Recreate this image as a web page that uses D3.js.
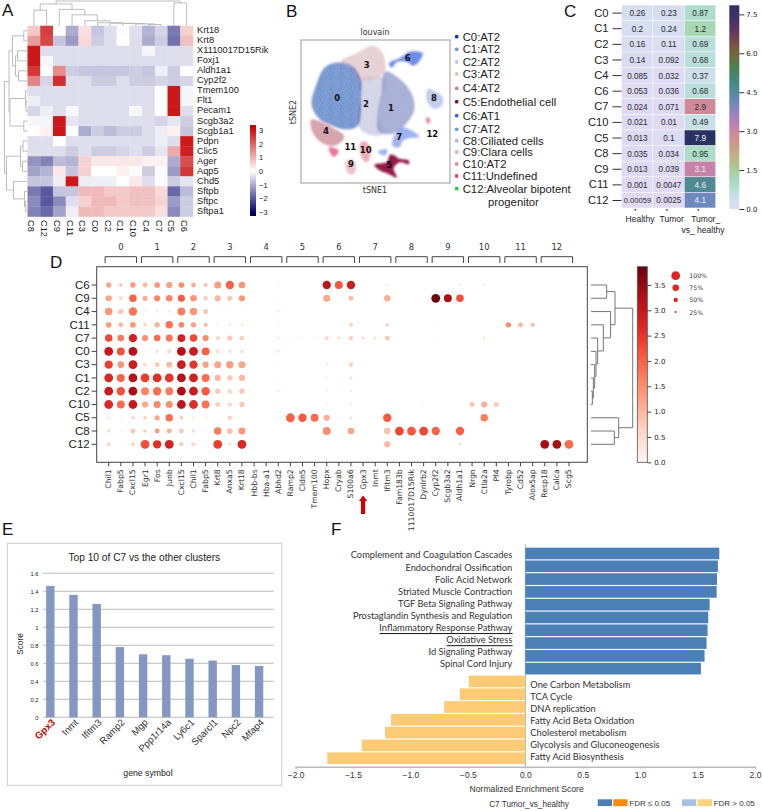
<!DOCTYPE html>
<html><head><meta charset="utf-8">
<style>
html,body{margin:0;padding:0;background:#fff}
svg{display:block}
text{font-family:"Liberation Sans",Arial,sans-serif;fill:#222}
.dj text,text.dj{font-family:"DejaVu Sans",sans-serif}
.lato text,text.lato{font-family:Lato,sans-serif}
</style>
<script src="https://cdn.jsdelivr.net/npm/d3@7"></script>
</head><body><svg id="c" width="763" height="811" viewBox="0 0 763 811"></svg>
<script>
/* ---------- Panel A ---------- */
const aCols=["C8","C12","C9","C11","C3","C0","C2","C1","C10","C4","C7","C5","C6"];
const aRows=["Krt18","Krt8","X1110017D15Rik","Foxj1","Aldh1a1","Cyp2f2","Tmem100","Flt1","Pecam1","Scgb3a2","Scgb1a1","Pdpn","Clic5","Ager","Aqp5","Chd5","Sftpb","Sftpc","Sftpa1"];
const aValues=[
[.7,2.5,0,-1,.4,-.7,-.4,-.05,-.4,-.9,-.5,-1.6,.6],
[1.3,2.4,-.7,-1.2,.5,-.6,-.4,0,-.4,-1,-.6,-1.7,.8],
[3,-.4,-.4,-.4,-.4,-.4,-.4,-.4,-.4,-.1,-.4,-.4,-.4],
[3,-.1,-.4,-.4,-.4,-.4,-.4,-.4,-.4,-.4,-.4,-.4,-.4],
[2.6,0,1.5,-.6,-.7,-.7,-.7,-.7,-.6,-.7,-.2,-.6,0],
[1.6,-.5,2.7,-.4,-.4,-.6,-.6,-.4,-.6,-.6,-.5,-.6,-.5],
[-.4,-.4,-.4,-.4,-.4,-.4,-.4,-.4,-.4,-.4,0,3,-.1],
[-.2,-.4,-.4,-.4,-.4,-.4,-.4,-.4,-.4,-.4,0,3,-.1],
[-.5,-.2,-.4,-.1,-.4,-.4,-.4,-.4,-.1,-.4,0,3,-.4],
[-.1,-.1,3,-.3,-.4,-.4,-.4,-.4,-.4,-.4,-.5,-.3,-.6],
[0,.2,3,0,-1,-.6,-.8,-.6,-.6,-.4,-.2,.2,-.7],
[-.4,-.4,0,-.4,-.4,-.4,-.4,-.4,-.4,-.4,-.2,-.4,3],
[-.4,-.4,-.4,-.6,-.4,-.6,-.6,-.5,-.4,-.6,-.3,1.1,2.9],
[-1.3,-1.5,-.8,-.9,.6,.3,.3,.3,.3,.2,.2,-1,2.3],
[-1.1,-.9,.3,-.7,.6,0,0,.2,-.05,-.6,-.05,-1.2,2.6],
[-.7,-.7,-.2,3,-.2,-.2,-.2,0,.3,-.4,-.05,-.6,-.3],
[-1.6,-2,-.7,-.7,.9,.9,.7,.7,.8,.8,.5,-1.8,-.8],
[-1.4,-2,-1.4,-.4,.6,.9,.9,.7,.8,.8,.6,-1.2,-.6],
[-1.5,-1.8,-1.1,-.2,.9,.9,.7,.7,.7,.7,.4,-1.4,-.6]];
const aColTree=[25,[22,[15.7,"C8","C12"],[16.5,"C9",[11,"C11",[5,"C3",[3,"C0",[2.5,"C2",[2.2,"C1",[1.8,"C10",[1.2,"C4","C7"]]]]]]]]],[23,"C5","C6"]];
const aRowTree=[23,[18.5,[15,[3.7,"Krt18","Krt8"],[12,[10,"X1110017D15Rik","Foxj1"],[9,"Aldh1a1","Cyp2f2"]]],[17.5,[2,"Tmem100",[1.5,"Flt1","Pecam1"]],[3.7,"Scgb3a2","Scgb1a1"]]],[21,[7,[4.5,"Pdpn","Clic5"],[5,"Ager","Aqp5"]],[14,"Chd5",[3,"Sftpb",[2,"Sftpc","Sftpa1"]]]]];
const aTicks=[3,2,1,0,-1,-2,-3];

/* ---------- Panel B ---------- */
const bLegend=["C0:AT2","C1:AT2","C2:AT2","C3:AT2","C4:AT2","C5:Endothelial cell","C6:AT1","C7:AT2","C8:Ciliated cells","C9:Clara cells","C10:AT2","C11:Undefined","C12:Alveolar bipotent","progenitor"];
const bColors=["#0a3ea8","#8a94c8","#c5c8df","#dfc0c5","#c6828e","#8c0a3c","#3c63dc","#7c96e8","#aab8e8","#e4aab8","#e88a9c","#e0406e","#22cc44"];
/* regions (cluster index, outline in map units) */
const tsneRegionCluster=[2,1,3,0,4,6,7,7,8,9,10,11,11,5];
const tsneRegions=[
[[150,150],[190,138],[228,150],[216,200],[206,260],[218,312],[175,312],[145,288],[150,200]],
[[225,125],[272,150],[306,195],[312,240],[282,287],[240,312],[205,302],[205,240],[215,190]],
[[92,95],[140,70],[190,48],[217,70],[224,122],[190,147],[150,150],[125,110]],
[[18,170],[45,113],[85,98],[127,110],[152,150],[152,200],[152,245],[142,287],[105,297],[70,287],[30,267],[6,225]],
[[4,270],[30,275],[70,295],[102,320],[75,346],[40,340],[10,310]],
[[238,100],[270,85],[300,66],[337,70],[326,95],[310,106],[290,95],[260,95],[245,112]],
[[275,293],[300,300],[327,320],[300,323],[280,330],[266,352],[248,346],[255,315]],
[[204,366],[230,358],[226,376],[212,372]],
[[354,178],[375,185],[396,200],[396,225],[375,236],[360,226],[350,205]],
[[110,394],[130,390],[136,425],[120,433],[108,415]],
[[152,340],[165,335],[181,355],[171,397],[155,380]],
[[58,352],[72,355],[85,362],[72,380],[62,370]],
[[350,264],[357,264],[358,279],[352,279]],
[[194,405],[232,396],[240,375],[255,378],[265,386],[296,392],[296,402],[270,396],[250,415],[260,442],[235,431],[210,421]]];
const tsneLabels=["0","1","2","3","4","5","6","7","8","9","10","11","12"];
const tsneLabelX=[82,243,168,170,48,238,293,268,372,123,167,121,367];
const tsneLabelY=[205,233,222,105,303,405,83,322,205,403,360,350,312];
const stippleTile=[[1,1],[4,.6],[7.5,1.4],[2.6,3],[5.8,3.2],[9,3.6],[.6,5],[3.8,5.4],[7,5.2],[1.8,7],[5,7.4],[8.6,6.8],[.8,9],[3.4,8.8],[6.4,9.2],[9.2,8.8]];

/* ---------- Panel C ---------- */
const cRows=["C0","C1","C2","C3","C4","C6","C7","C10","C5","C8","C9","C11","C12"];
const cCols=["Healthy","Tumor","Tumor_vs_healthy"];
const cHealthy=[.26,.2,.16,.14,.085,.053,.024,.021,.013,.035,.013,.001,.00059];
const cTumor=[.23,.24,.11,.092,.032,.036,.071,.01,.1,.034,.039,.0047,.0025];
const cRatio=[.87,1.2,.69,.68,.37,.68,2.9,.49,7.9,.95,3.1,4.6,4.1];
const cTicks=[0,1.5,3,4.5,6,7.5];

/* ---------- Panel D ---------- */
const dGroups=["0","1","2","3","4","5","6","7","8","9","10","11","12"];
const dGenes=["Chil1","Fabp5","Cxcl15","Egr1","Fos","Junb","Cxcl15","Chil1","Fabp5","Krt8","Anxa5","Krt18","Hbb-bs","Hba-a1","Abhd2","Ramp2","Cldn5","Tmem100","Hopx","Cryab","S100a6","Gpx3","Inmt","Ifitm3","Fam183b","1110017D15Rik","Dynlrb2","Cyp2f2","Scgb3a2","Aldh1a1","Nrgn","Ctla2a","Pf4","Tyrobp","Cd52","Alox5ap","Resp18","Calca","Scg5"];
const dRows=["C6","C9","C4","C11","C7","C0","C3","C1","C2","C10","C5","C8","C12"];
const dFrac=[
[.6,.4,.6, .55,.65,.7, .65,.55,.45, .8,.95,.75, 0,0,.25, .15,.12,.12, .95,.9,.95, .15,.15,.25, 0,0,0, 0,0,.25, 0,.25,0, 0,0,0, 0,0,0],
[.7,.45,.85, .6,.7,.75, .8,.75,.5, .7,.6,.7, .15,0,.2, .1,.1,0, .8,0,.55, 0,0,.75, 0,0,0, 1,.9,.85, 0,.15,0, 0,0,0, 0,0,0],
[.85,.6,.95, .2,.3,.3, .9,.85,.6, .2,.2,.2, .15,.1,.3, 0,0,0, .1,0,.15, 0,0,.1, 0,0,0, 0,0,0, 0,0,0, 0,0,0, 0,0,0],
[.65,.55,.65, .4,.6,.85, .65,.6,.5, .25,.3,.3, 0,0,.2, 0,0,0, .15,.1,.45, 0,0,.4, 0,0,0, .2,.1,0, .1,.15,0, .6,.55,.45, 0,0,0],
[.85,.75,.95, .7,.75,.8, .9,.85,.7, .5,.6,.55, 0,0,.3, .2,.2,.2, .45,.35,.5, .35,.3,.55, 0,0,.15, .2,.1,.1, .1,.3,0, 0,0,0, 0,0,0],
[1,.9,1, .2,.4,.5, 1,1,.9, .45,.4,.4, .1,0,.3, 0,0,0, .1,0,.1, 0,0,0, 0,0,.1, .1,0,0, 0,0,0, 0,0,0, 0,0,0],
[.95,.75,1, .45,.55,.65, 1,.95,.7, .8,.85,.8, 0,0,.2, 0,0,0, .3,.15,.5, 0,0,.15, 0,0,.1, 0,0,0, 0,0,0, 0,0,0, 0,0,0],
[1,.9,1, 1,1,1, 1,1,.9, .7,.6,.7, 0,0,.2, 0,0,0, .25,.1,.35, 0,0,.1, 0,0,.15, .15,.1,.1, 0,0,0, 0,0,0, 0,0,0],
[1,.95,1, .9,.95,.9, 1,1,.95, .6,.55,.6, 0,0,.3, 0,0,0, .2,.15,.3, 0,0,0, 0,0,.15, .1,0,0, 0,0,0, 0,0,0, 0,0,0],
[1,.9,1, .7,.8,.8, 1,1,.9, .55,.5,.6, .1,.15,.2, 0,0,0, .25,.15,.3, 0,0,.1, 0,0,.2, .1,.1,.1, .55,.7,.55, 0,0,0, 0,0,0],
[.3,.2,.4, .4,.6,.85, .45,.3,.25, .1,.5,.1, 0,0,.1, 1,.95,.9, .7,.25,.35, .15,.15,.95, 0,0,0, 0,0,0, 0,.85,0, 0,0,0, 0,0,0],
[.4,.2,.55, .4,.55,.55, .55,.4,.2, .85,.65,.8, 0,0,0, 0,0,0, .9,0,.75, 0,0,.75, 1,1,1, .95,.1,.95, 0,0,0, 0,0,0, 0,0,0],
[.45,.15,.45, 1,.95,1, .5,.45,.15, 1,.35,1, 0,0,0, 0,0,0, 0,0,.15, .1,0,.7, 0,0,0, .2,.1,.35, 0,0,0, 0,0,0, 1,1,1]];
const dExpr=[
[1.2,.9,1.4, 1,1.4,1.3, 1.5,1.1,.9, 1.3,2,1.4, 0,0,.2, .1,.1,.1, 3.1,2.1,2.9, .1,.1,.4, 0,0,0, 0,0,.4, 0,.4,0, 0,0,0, 0,0,0],
[1.2,.6,2, 1.1,1.6,1.6, 2.1,1.4,.7, 1,.8,1.4, .1,0,.1, .1,.1,0, 1.2,0,.9, 0,0,1.1, 0,0,0, 3.8,3.3,2.2, 0,.1,0, 0,0,0, 0,0,0],
[1.4,.8,1.8, .2,.3,.3, 1.7,1.4,.8, .2,.2,.2, .1,.1,.3, 0,0,0, .1,0,.15, 0,0,.1, 0,0,0, 0,0,0, 0,0,0, 0,0,0, 0,0,0],
[1.3,1,1.4, .7,1.1,1.8, 1.6,1.3,.9, .3,.4,.4, 0,0,.2, 0,0,0, .1,.1,.7, 0,0,.7, 0,0,0, .2,.1,0, .1,.1,0, 1.5,1,1, 0,0,0],
[2.3,1.7,2.8, 1.5,1.9,1.8, 2.8,2.3,1.5, .6,.8,.7, 0,0,.3, .2,.2,.2, .7,.5,.7, .6,.5,.8, 0,0,.1, .2,.1,.1, .1,.4,0, 0,0,0, 0,0,0],
[3,2.2,3.2, .2,.4,.5, 3.2,2.9,2, .5,.4,.5, .1,0,.4, 0,0,0, .1,0,.1, 0,0,0, 0,0,.1, .1,0,0, 0,0,0, 0,0,0, 0,0,0],
[2.4,1.4,2.9, .5,.8,1, 2.9,2.5,1.3, 1.2,1.3,1.2, 0,0,.2, 0,0,0, .3,.1,.7, 0,0,.1, 0,0,.1, 0,0,0, 0,0,0, 0,0,0, 0,0,0],
[2.7,2,3.2, 2.4,2.6,2.5, 3.2,2.8,1.9, 1,.8,1, 0,0,.2, 0,0,0, .3,.1,.5, 0,0,.1, 0,0,.1, .1,.1,.1, 0,0,0, 0,0,0, 0,0,0],
[2.9,2.2,3.3, 1.6,1.9,1.7, 3.3,2.9,2.1, .8,.6,.8, 0,0,.3, 0,0,0, .2,.1,.3, 0,0,0, 0,0,.1, .1,0,0, 0,0,0, 0,0,0, 0,0,0],
[2.7,1.9,3, 1.2,1.6,1.5, 3.1,2.6,1.8, .7,.6,.8, .1,.1,.2, 0,0,0, .3,.1,.3, 0,0,.1, 0,0,.1, .1,.1,.1, .9,1.1,.8, 0,0,0, 0,0,0],
[.4,.2,.6, .7,1.2,1.9, .7,.3,.3, .1,.7,.1, 0,0,.1, 2,2.1,1.9, 1.1,.2,.5, .1,.1,2.1, 0,0,0, 0,0,0, 0,1.7,0, 0,0,0, 0,0,0],
[.5,.3,.8, .7,1.4,1.1, .8,.5,.2, 1.7,.9,1.4, 0,0,0, 0,0,0, 1.5,0,1.2, 0,0,.9, 2.3,2.1,2.3, 2,.1,2, 0,0,0, 0,0,0, 0,0,0],
[.6,.2,.6, 2.2,2.6,2.8, .7,.6,.2, 2.4,.4,2.7, 0,0,0, 0,0,0, 0,0,.1, .1,0,1, 0,0,0, .2,.1,.4, 0,0,0, 0,0,0, 3.3,3.3,1.9]];
const dTree=[1,[.576,[.376,"C6","C9"],[.47,"C4",[.296,"C11",[.16,"C7",[.12,"C0",[.088,"C3",[.056,"C1",[.032,"C2","C10"]]]]]]]],[.664,"C5",[.56,"C8","C12"]]];
const dSizeLegend=[1,.75,.5,.25];
const dBarTicks=[0,.5,1,1.5,2,2.5,3,3.5];

/* ---------- Panel E ---------- */
const eGenes=["Gpx3","Inmt","Ifitm3","Ramp2","Mgp","Ppp1r14a","Ly6c1","Sparcl1","Npc2","Mfap4"];
const eScores=[1.46,1.36,1.26,.78,.70,.69,.65,.63,.58,.57];

/* ---------- Panel F ---------- */
const fUp=["Complement and Coagulation Cascades","Endochondral Ossification","Folic Acid Network","Striated Muscle Contraction","TGF Beta Signaling Pathway","Prostaglandin Synthesis and Regulation","Inflammatory Response Pathway","Oxidative Stress","Id Signaling Pathway","Spinal Cord Injury"];
const fUpNES=[1.689,1.677,1.669,1.666,1.605,1.593,1.587,1.578,1.561,1.529];
const fDown=["One Carbon Metabolism","TCA Cycle","DNA replication","Fatty Acid Beta Oxidation","Cholesterol metabolism","Glycolysis and Gluconeogenesis","Fatty Acid Biosynthesis"];
const fDownNES=[-.491,-.57,-.706,-1.169,-1.221,-1.424,-1.724];
const fTicks=[-2,-1.5,-1,-.5,0,.5,1,1.5,2];
const fUnderlined=["Inflammatory Response Pathway","Oxidative Stress"];

/* ---------- helpers ---------- */
const svg=d3.select("#c"), defs=svg.append("defs");
function letter(t,x,y){svg.append("text").attr("x",x).attr("y",y).attr("font-size",17).style("fill","#111").text(t);}
function gradient(id,scale,dom){
  const g=defs.append("linearGradient").attr("id",id).attr("x1",0).attr("x2",0).attr("y1",1).attr("y2",0);
  d3.range(41).forEach(i=>{const t=i/40;g.append("stop").attr("offset",t).attr("stop-color",scale(dom[0]+t*(dom[1]-dom[0])));});
}
/* draws a nested [height,a,b] tree with leaf scale `leaf` and height scale `hs` */
function dendro(g,tree,leaf,hs,orient,color,w){
  const seg=(a,b,c,d)=>{g.append("path").attr("fill","none").attr("stroke",color).attr("stroke-width",w)
    .attr("d",orient==="h"?d3.line()([[b,a],[d,c]]):d3.line()([[a,b],[c,d]]));};
  (function walk(n){
    if(typeof n==="string") return {p:leaf(n),h:hs(0)};
    const l=walk(n[1]),r=walk(n[2]),H=hs(n[0]);
    seg(l.p,l.h,l.p,H);seg(r.p,r.h,r.p,H);seg(l.p,H,r.p,H);
    return {p:(l.p+r.p)/2,h:H};
  })(tree);
}

/* ---------- A ---------- */
letter("A",2,16);
{
  const g=svg.append("g");
  const x=d3.scaleBand().domain(aCols).range([27.5,193]);
  const y=d3.scaleBand().domain(aRows).range([25.7,216.5]);
  const col=d3.scaleLinear().domain([-3,0,3]).range(["#05056f","#ffffff","#cc1818"]);
  aValues.forEach((row,i)=>{
    g.selectAll(null).data(row).join("rect")
      .attr("x",(d,j)=>x(aCols[j])).attr("y",y(aRows[i]))
      .attr("width",x.bandwidth()+.3).attr("height",y.bandwidth()+.3).attr("fill",d=>col(d));
  });
  g.selectAll(null).data(aRows).join("text").attr("x",197).attr("y",d=>y(d)+y.bandwidth()/2+2.4)
    .attr("font-size",9.3).text(d=>d);
  g.selectAll(null).data(aCols).join("text").attr("font-size",9.2)
    .attr("transform",d=>`translate(${x(d)+x.bandwidth()/2-5.5},220) rotate(90)`).text(d=>d);
  dendro(g,aColTree,d=>x(d)+x.bandwidth()/2,d3.scaleLinear().domain([0,25]).range([25.7,1]),"v","#b5b5b5",.9);
  dendro(g,aRowTree,d=>y(d)+y.bandwidth()/2,d3.scaleLinear().domain([0,23]).range([27.5,4.5]),"h","#b5b5b5",.9);
  const cs=d3.scaleLinear().domain([-3,3]).range([212,130]);
  gradient("gA",col,[-3.3,3.4]);
  g.append("rect").attr("x",250).attr("y",125).attr("width",6).attr("height",91).attr("fill","url(#gA)");
  const ax=g.append("g").attr("transform","translate(256,0)").call(d3.axisRight(cs).tickValues(aTicks).tickSize(0).tickPadding(3).tickFormat(d=>String(d).replace("-","\u2212")));
  ax.select(".domain").remove();
  ax.selectAll("text").attr("font-size",7.5).style("font-family","Liberation Sans");
}

/* ---------- B ---------- */
letter("B",286,17);
{
  const g=svg.append("g");
  const x=d3.scaleLinear().domain([-27,420]).range([301,450]);
  const y=d3.scaleLinear().domain([30,459]).range([40,183]);
  bColors.forEach((c,i)=>{
    const p=defs.append("pattern").attr("id","pt"+i).attr("patternUnits","userSpaceOnUse").attr("width",10).attr("height",10);
    p.selectAll("circle").data(stippleTile).join("circle").attr("cx",d=>d[0]).attr("cy",d=>d[1])
      .attr("r",(d,j)=>j%3===0?.75:.55).attr("fill",c).attr("fill-opacity",i===0?.95:.8);
  });
  defs.append("filter").attr("id","halo").attr("x","-15%").attr("y","-15%").attr("width","130%").attr("height","130%")
    .append("feGaussianBlur").attr("stdDeviation",1);
  const ff=defs.append("filter").attr("id","feather").attr("x","-10%").attr("y","-10%").attr("width","120%").attr("height","120%");
  ff.append("feGaussianBlur").attr("in","SourceAlpha").attr("stdDeviation",2).attr("result","b");
  ff.append("feComposite").attr("in","SourceGraphic").attr("in2","b").attr("operator","in");
  const line=d3.line().x(d=>x(d[0])).y(d=>y(d[1])).curve(d3.curveCatmullRomClosed.alpha(.5));
  const cid=i=>tsneRegionCluster[i];
  const base=g.append("g").attr("filter","url(#halo)");
  base.selectAll("path").data(tsneRegions).join("path").attr("d",line)
    .attr("fill",(d,i)=>bColors[cid(i)]).attr("fill-opacity",(d,i)=>cid(i)===0?.5:cid(i)===5?.95:.72)
    .attr("stroke",(d,i)=>bColors[cid(i)]).attr("stroke-width",1.4).attr("stroke-opacity",.22);
  const stip=g.append("g").attr("filter","url(#feather)");
  stip.selectAll("path").data(tsneRegions).join("path").attr("d",line).attr("fill",(d,i)=>`url(#pt${cid(i)})`);
  g.append("rect").attr("x",301).attr("y",40).attr("width",149).attr("height",143).attr("fill","none").attr("stroke","#aaa").attr("stroke-width",1.2);
  g.selectAll(null).data(tsneLabels).join("text").attr("class","dj")
    .attr("x",(d,i)=>x(tsneLabelX[i])).attr("y",(d,i)=>y(tsneLabelY[i])+3)
    .attr("text-anchor","middle").attr("font-size",8.5).attr("font-weight","bold").style("fill","#111").text(d=>d);
  const lab=(t,xx,yy,r)=>g.append("text").attr("class","dj").attr("font-size",8).attr("text-anchor","middle").style("fill","#333")
     .attr("transform",`translate(${xx},${yy})`+(r?" rotate(-90)":"")).text(t);
  lab("louvain",375,35);lab("tSNE1",375,193);lab("tSNE2",296,112,true);
  const legY=[36.7,49.3,62,74,88.3,101.7,115.7,129.3,140.7,152,164,176,188.7,201.7];
  g.selectAll(null).data(bLegend).join("text").attr("font-size",11.3)
    .attr("x",(d,i)=>i===13?488:462.7).attr("y",(d,i)=>legY[i]+4).text(d=>d);
  g.selectAll(null).data(bColors).join("circle").attr("cx",456.7).attr("cy",(d,i)=>legY[i]).attr("r",1.9).attr("fill",d=>d);
}

/* ---------- C ---------- */
letter("C",564,17);
{
  const g=svg.append("g");
  const x=d3.scaleBand().domain(cCols).range([621.7,716]);
  const y=d3.scaleBand().domain(cRows).range([5.3,208.3]);
  const col=d3.scaleLinear()
    .domain([0,.3,.6,1,1.4,1.8,2.3,2.8,3.2,3.7,4.1,4.6,5,5.5,6,6.4,6.9,7.3,7.85])
    .range(["#e0daf4","#d4dff0","#bfe0e0","#a8dcc4","#a6d2a2","#b5bd8a","#c8a488","#d08e90","#c27fb0","#9a82c0","#6d89bd","#4f8a94","#3f8a75","#4f7e4e","#76673a","#7c4b45","#63355f","#43306a","#2c3264"]);
  const fmt=v=>String(v);
  [cHealthy,cTumor,cRatio].forEach((vals,k)=>{
    const c=g.selectAll(null).data(vals).join("g");
    c.append("rect").attr("x",x(cCols[k])).attr("y",(d,i)=>y(cRows[i])).attr("width",x.bandwidth()-.6).attr("height",y.bandwidth()-.6).attr("fill",d=>col(d));
    c.append("text").attr("x",x(cCols[k])+x.bandwidth()/2).attr("y",(d,i)=>y(cRows[i])+y.bandwidth()/2+3).attr("text-anchor","middle")
      .attr("font-size",d=>d<.001?7.6:8.2).style("fill",d=>(d>=3)?"#f2f2f2":"#2a2a2a").text(d=>fmt(d));
  });
  const ay=g.append("g").attr("transform","translate(621.5,0)").call(d3.axisLeft(y).tickSize(9).tickPadding(4));
  ay.select(".domain").remove();
  ay.selectAll("line").attr("stroke","#333").attr("stroke-width",1);
  ay.selectAll("text").attr("font-size",11.2).style("font-family","Liberation Sans");
  g.selectAll(null).data(cCols).join("circle").attr("cx",d=>x(d)+x.bandwidth()/2-2).attr("cy",209.8).attr("r",.9).attr("fill","#333");
  const xl=[["Healthy",640,222],["Tumor",671.7,222],["Tumor_",705.7,222],["vs_ healthy",703,232.7]];
  g.selectAll(null).data(xl).join("text").attr("x",d=>d[1]).attr("y",d=>d[2]).attr("text-anchor","middle").attr("font-size",8.5).text(d=>d[0]);
  gradient("gC",col,[0,7.85]);
  g.append("rect").attr("x",729.3).attr("y",5.3).attr("width",10).attr("height",203.7).attr("fill","url(#gC)");
  const s=d3.scaleLinear().domain([0,7.85]).range([209,5.3]);
  const a=g.append("g").attr("class","dj").attr("transform","translate(739.3,0)").call(d3.axisRight(s).tickValues(cTicks).tickSize(5).tickPadding(2).tickFormat(d3.format(".1f")));
  a.select(".domain").remove();a.selectAll("line").attr("stroke","#333");
  a.selectAll("text").attr("font-size",7);
}

/* ---------- D ---------- */
letter("D",50,268);
{
  const g=svg.append("g");
  const x=d3.scaleBand().domain(d3.range(dGenes.length)).range([102.65,575.05]);
  const y=d3.scaleBand().domain(dRows).range([278.36,450.96]);
  const cx=i=>x(i)+x.bandwidth()/2;
  const col=d3.scaleSequential(d3.interpolateReds).domain([0,3.86]);
  const r=d3.scaleLinear().domain([0,1]).range([0,4.4]);
  dRows.forEach((rn,i)=>{
    const pts=dFrac[i].map((f,j)=>({f,e:dExpr[i][j],j})).filter(d=>d.f>0);
    g.selectAll(null).data(pts).join("circle").attr("cx",d=>cx(d.j)).attr("cy",y(rn)+y.bandwidth()/2)
      .attr("r",d=>r(d.f)).attr("fill",d=>col(d.e));
  });
  g.append("rect").attr("x",96.7).attr("y",266.7).attr("width",490.6).attr("height",195.6).attr("fill","none").attr("stroke","#444").attr("stroke-width",1);
  const ax=g.append("g").attr("class","dj").attr("transform","translate(0,462.3)").call(d3.axisBottom(x).tickSize(4).tickPadding(3).tickFormat(i=>dGenes[i]));
  ax.select(".domain").remove();ax.selectAll("line").attr("stroke","#444");
  ax.selectAll("text").attr("font-size",7.7).attr("text-anchor","end").attr("transform","rotate(-90)").attr("x",-7).attr("y",0).attr("dy","0.32em").style("fill","#333");
  const ay=g.append("g").attr("transform","translate(96.7,0)").call(d3.axisLeft(y).tickSize(5).tickPadding(2));
  ay.select(".domain").remove();ay.selectAll("line").attr("stroke","#444");
  ay.selectAll("text").attr("font-size",11.5).style("font-family","Liberation Sans");
  dGroups.forEach((t,i)=>{
    const a=cx(i*3)-3.6,b=cx(i*3+2)+3.6;
    g.append("path").attr("fill","none").attr("stroke","#444").attr("stroke-width",1)
      .attr("d",d3.line()([[a,263],[a,256.7],[b,256.7],[b,263]]));
    g.append("text").attr("class","dj").attr("x",(a+b)/2).attr("y",250).attr("text-anchor","middle").attr("font-size",8.4).style("fill","#333").text(t);
  });
  dendro(g,dTree,d=>y(d)+y.bandwidth()/2,d3.scaleLinear().domain([0,1]).range([591,632.7]),"h","#666",.9);
  /* arrow */
  const ar=cx(dGenes.indexOf("Gpx3"));
  g.append("path").attr("fill","#d20000").attr("d",d3.line()([[ar,495.5],[ar+4.2,501],[ar+2.1,501],[ar+2.1,514],[ar-2.1,514],[ar-2.1,501],[ar-4.2,501]])+"Z");
  gradient("gD",col,[0,3.86]);
  g.append("rect").attr("x",637.3).attr("y",266.7).attr("width",10).attr("height",195.6).attr("fill","url(#gD)").attr("stroke","#555").attr("stroke-width",.8);
  const s=d3.scaleLinear().domain([0,3.86]).range([462.3,266.7]);
  const a=g.append("g").attr("class","dj").attr("transform","translate(647.3,0)").call(d3.axisRight(s).tickValues(dBarTicks).tickSize(4).tickPadding(3).tickFormat(d3.format(".1f")));
  a.select(".domain").remove();a.selectAll("line").attr("stroke","#444");a.selectAll("text").attr("font-size",7);
  const ly=d3.scalePoint().domain(dSizeLegend).range([275.7,312]);
  g.selectAll(null).data(dSizeLegend).join("circle").attr("cx",675.7).attr("cy",d=>ly(d)).attr("r",d=>r(d)).attr("fill","#e02525");
  g.selectAll(null).data(dSizeLegend).join("text").attr("class","dj").attr("x",689.3).attr("y",d=>ly(d)+2.5).attr("font-size",6.2).style("fill","#333").text(d=>(d*100)+"%");
}

/* ---------- E ---------- */
letter("E",2,535);
{
  const g=svg.append("g");
  g.append("rect").attr("x",7.3).attr("y",543.3).attr("width",274.4).attr("height",242).attr("fill","#fff").attr("stroke","#ccc").attr("stroke-width",1);
  const y=d3.scaleLinear().domain([0,1.6]).range([717.3,573.3]);
  const x=d3.scaleBand().domain(eGenes).range([38.7,270.7]);
  g.selectAll(null).data(y.ticks(8)).join("line").attr("x1",43.3).attr("x2",274).attr("y1",d=>y(d)).attr("y2",d=>y(d)).attr("stroke","#aaa").attr("stroke-width",.8);
  g.selectAll(null).data(eScores).join("rect").attr("x",(d,i)=>x(eGenes[i])+x.bandwidth()/2-4.2).attr("width",8.4)
    .attr("y",d=>y(d)).attr("height",d=>y(0)-y(d)).attr("fill","#8497c0");
  const ay=g.append("g").attr("transform","translate(42,0)").call(d3.axisLeft(y).ticks(8).tickSize(0).tickPadding(3.5).tickFormat(d=>String(+d.toFixed(1))));
  ay.select(".domain").remove();ay.selectAll("text").attr("font-size",5.8).style("font-family","Liberation Sans");
  g.selectAll(null).data(eGenes).join("text").attr("text-anchor","end").attr("font-size",9.6)
    .attr("font-weight",d=>d==="Gpx3"?"bold":"normal").style("fill",d=>d==="Gpx3"?"#c00000":"#333")
    .attr("transform",d=>`translate(${x(d)+x.bandwidth()/2+5.5},723) rotate(-45)`).text(d=>d);
  g.append("text").attr("x",144.3).attr("y",561).attr("text-anchor","middle").attr("font-size",10.2).text("Top 10 of C7 vs the other clusters");
  g.append("text").attr("font-size",8.2).attr("text-anchor","middle").attr("transform","translate(23,644) rotate(-90)").text("Score");
  g.append("text").attr("x",148).attr("y",775.5).attr("text-anchor","middle").attr("font-size",8.7).text("gene symbol");
}

/* ---------- F ---------- */
letter("F",331,535);
{
  const g=svg.append("g");
  const x=d3.scaleLinear().domain([-2,2]).range([295.6,755]);
  const names=fUp.concat(fDown), vals=fUpNES.concat(fDownNES);
  const y=d3.scaleBand().domain(names).range([547.1,764.6]).paddingInner(.09).paddingOuter(.045);
  g.append("line").attr("x1",x(0)).attr("x2",x(0)).attr("y1",544.3).attr("y2",766.7).attr("stroke","#aaa").attr("stroke-width",1);
  g.selectAll(null).data(vals).join("rect")
    .attr("x",d=>x(Math.min(0,d))).attr("width",d=>Math.abs(x(d)-x(0)))
    .attr("y",(d,i)=>y(names[i])).attr("height",y.bandwidth()).attr("fill",d=>d>0?"#4a80b5":"#fdcb75");
  const ly1=d3.scalePoint().domain(fUp).range([555,664]);
  const ly2=d3.scalePoint().domain(fDown).range([684.3,756.7]);
  g.selectAll(null).data(fUp).join("text").attr("class","lato").attr("text-anchor","end").attr("x",512.3).attr("y",d=>ly1(d)+3.4).attr("font-size",9.3).style("fill","#333").text(d=>d)
    .each(function(d){ if(fUnderlined.includes(d)){const w=this.getComputedTextLength();
      g.append("line").attr("x1",512.6-w).attr("x2",512.6).attr("y1",ly1(d)+5.9).attr("y2",ly1(d)+5.9).attr("stroke","#111").attr("stroke-width",1);}});
  g.selectAll(null).data(fDown).join("text").attr("class","lato").attr("x",530.3).attr("y",d=>ly2(d)+3.4).attr("font-size",9.3).style("fill","#333").text(d=>d);
  const ax=g.append("g").attr("transform","translate(0,766.7)").call(d3.axisBottom(x).tickValues(fTicks).tickSize(2).tickPadding(3).tickFormat(d3.format(".1f")));
  ax.select(".domain").attr("stroke","#bbb").attr("stroke-width",1.4);
  ax.selectAll("line").attr("stroke","#bbb");
  ax.selectAll("text").attr("font-size",8.5).style("font-family","Liberation Sans").style("fill","#333");
  g.append("text").attr("x",526.7).attr("y",791.5).attr("text-anchor","middle").attr("font-size",8.6).style("fill","#333").text("Normalized Enrichment Score");
  g.append("text").attr("x",529).attr("y",806.5).attr("text-anchor","middle").attr("font-size",8.2).style("fill","#333").text("C7 Tumor_vs_healthy");
  const sw=[[597.7,"#4a80b5"],[613.3,"#f58a0b"],[682,"#a9c0de"],[697.7,"#fdd27f"]];
  g.selectAll(null).data(sw).join("rect").attr("x",d=>d[0]).attr("y",799.3).attr("width",14.3).attr("height",6.8).attr("fill",d=>d[1]);
  g.append("text").attr("x",629.3).attr("y",806).attr("font-size",8).style("fill","#333").text("FDR \u2264 0.05");
  g.append("text").attr("x",713.7).attr("y",806).attr("font-size",8).style("fill","#333").text("FDR > 0.05");
}
</script></body></html>
